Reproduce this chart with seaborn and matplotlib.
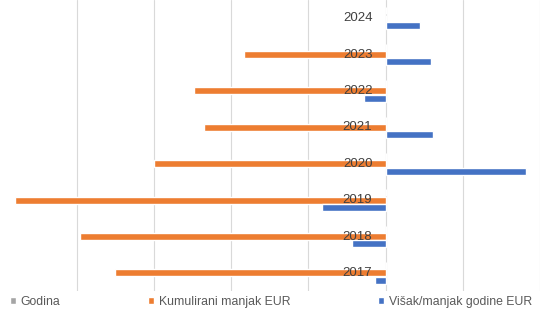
import numpy as np
import pandas as pd
import matplotlib
matplotlib.use('Agg')
import matplotlib.pyplot as plt
import matplotlib.transforms as mtransforms
import seaborn as sns

# Data (EUR)
years = ['2024', '2023', '2022', '2021', '2020', '2019', '2018', '2017']
godina = [0, 0, 0, 0, 0, 0, 0, 0]
kumulirani = [0, -183000, -248000, -236000, -300000, -480000, -396000, -351000]
visak = [44000, 59000, -28000, 62000, 182000, -83000, -44000, -14000]
series_names = ['Godina', 'Kumulirani manjak EUR', 'Višak/manjak godine EUR']
colors = ['#A5A5A5', '#ED7D31', '#4472C4']


def main():
    df = pd.concat([
        pd.DataFrame({'year': years, 'series': series_names[0], 'value': godina}),
        pd.DataFrame({'year': years, 'series': series_names[1], 'value': kumulirani}),
        pd.DataFrame({'year': years, 'series': series_names[2], 'value': visak}),
    ])

    sns.set_style('white')
    plt.rcParams['font.family'] = ['Liberation Sans', 'DejaVu Sans']

    fig = plt.figure(figsize=(5.42, 3.09), dpi=100)
    ax = fig.add_axes([0.0, 0.058, 0.996, 0.942])

    sns.barplot(data=df, y='year', x='value', hue='series', order=years,
                hue_order=series_names, palette=dict(zip(series_names, colors)),
                orient='h', width=0.6, gap=0.04, saturation=1, ax=ax, legend=True)

    ax.set_xlim(-500000, 200000)
    ax.set_xticks(np.arange(-400000, 200001, 100000))
    ax.xaxis.grid(True, color='#D9D9D9', linewidth=0.8)
    ax.set_axisbelow(True)
    ax.tick_params(left=False, bottom=False, labelleft=False, labelbottom=False)
    ax.set_xlabel('')
    ax.set_ylabel('')
    for s in ax.spines.values():
        s.set_visible(False)

    # year labels next to the value axis at zero
    offset = mtransforms.ScaledTranslation(-9.5 / 72, 0, fig.dpi_scale_trans)
    for i, y in enumerate(years):
        ax.text(0, i, y, ha='right', va='center', fontsize=9.5, color='#404040',
                transform=ax.transData + offset)

    handles, labels = ax.get_legend_handles_labels()
    ax.legend(handles, labels, loc='upper left', bbox_to_anchor=(0.01, 0.0),
              ncol=3, frameon=False, fontsize=8.8, labelcolor='#595959',
              handlelength=0.45, handleheight=0.45, handletextpad=0.4,
              columnspacing=7.2, borderaxespad=0)

    fig.savefig('out.png', dpi=100)


main()
